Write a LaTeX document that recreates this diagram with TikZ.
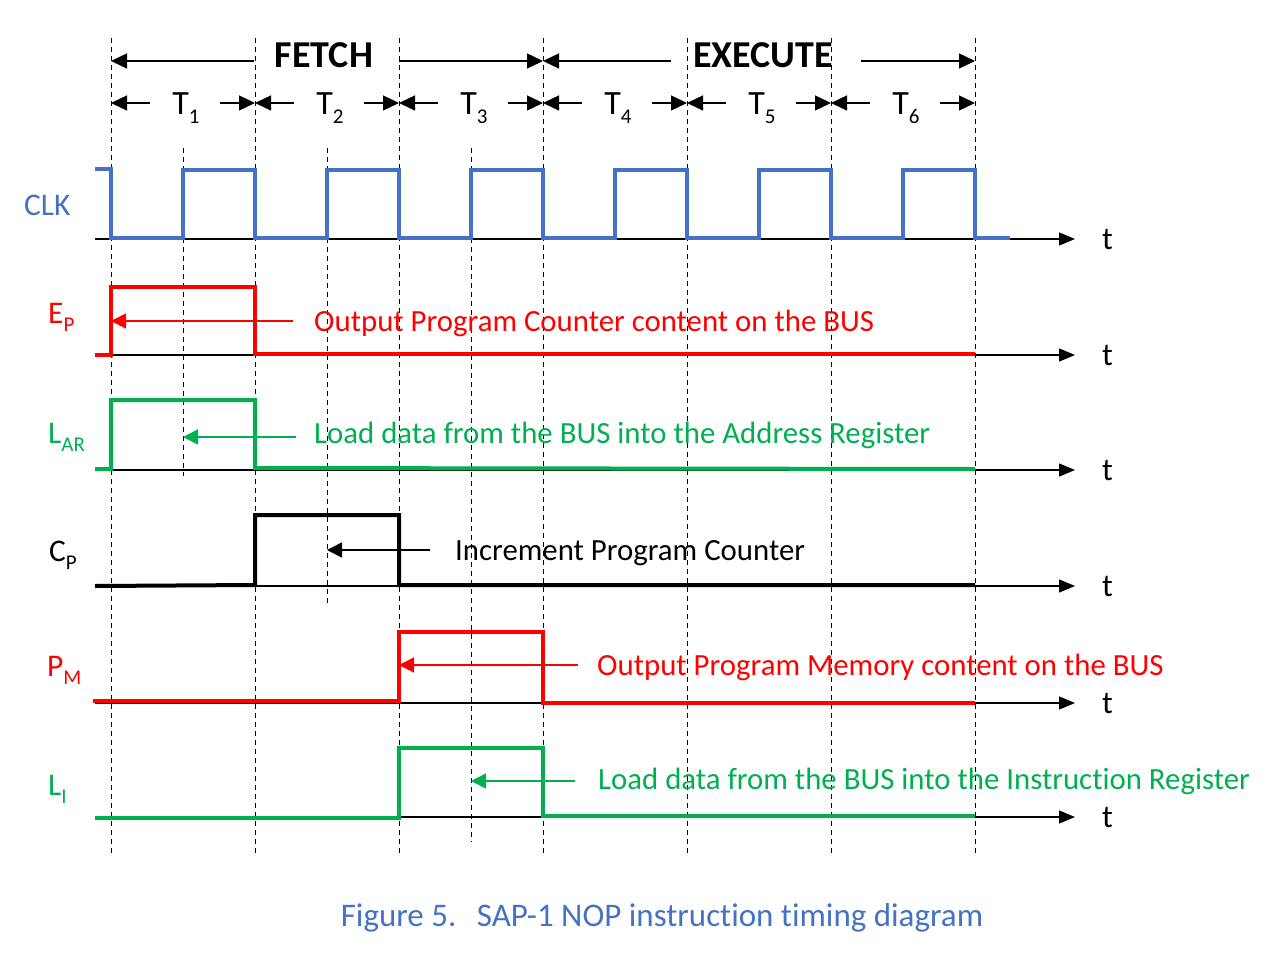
\documentclass[tikz,border=0pt]{standalone}
\usepackage{fontspec}
\setmainfont{Carlito}[Ligatures=NoCommon]
\usetikzlibrary{arrows.meta}
\definecolor{clkblue}{HTML}{4472C4}
\definecolor{sigred}{HTML}{FF0000}
\definecolor{siggreen}{HTML}{00B050}
\definecolor{capblue}{HTML}{4472C4}
\newcommand\lowsub[1]{\raisebox{-0.28em}{\fontsize{21}{21}\selectfont #1}}
\begin{document}
\begin{tikzpicture}[x=1pt,y=-1pt,
  sig/.style={line width=4pt, line join=miter, line cap=butt},
  axisline/.style={line width=1.2pt, -{Triangle[length=16pt,width=13pt]}},
  gridline/.style={line width=0.9pt, dash pattern=on 5pt off 4pt},
  spanarrow/.style={line width=1.3pt, -{Triangle[length=16pt,width=15pt]}},
  note/.style={line width=1.6pt, -{Triangle[length=15pt,width=15pt]}},
  notetext/.style={font=\fontsize{30.8}{33}\selectfont, inner sep=0pt, anchor=base west},
  siglabel/.style={font=\fontsize{31.5}{33}\selectfont, inner sep=0pt, anchor=base west},
  tlabel/.style={font=\fontsize{32}{34}\selectfont, inner sep=0pt, anchor=base west},
  phase/.style={font=\bfseries\fontsize{38}{40}\selectfont, inner sep=0pt, anchor=base},
  period/.style={font=\fontsize{34}{36}\selectfont, inner sep=0pt, anchor=base},
]
\useasboundingbox (0,0) rectangle (1274,972);

% grid lines
\foreach \x in {111,255,399,543,687,831,975}
  \draw[gridline] (\x,38) -- (\x,856);
\draw[gridline] (183,148) -- (183,476);
\draw[gridline] (327,148) -- (327,606);
\draw[gridline] (471,148) -- (471,842);

% time axes
\foreach \n/\y in {0/239,1/355,2/470,3/586,4/703,5/817}{
  \coordinate (ax\n) at (95,\y);
  \coordinate (ae\n) at (1075,\y);
  \draw[axisline] (ax\n) -- (ae\n);
  \node[tlabel] (t\n) at (1102,\y+10) {t};
}

% phase headings
\node[phase] (fetch) at (324,67) {FETCH};
\node[phase] (exec) at (763,67) {EXECUTE};
\coordinate (f1) at (254,61); \coordinate (f0) at (111,61);
\coordinate (f2) at (399,61); \coordinate (f3) at (543,61);
\coordinate (e1) at (671,61); \coordinate (e0) at (543,61);
\coordinate (e2) at (861,61); \coordinate (e3) at (975,61);
\draw[spanarrow] (f1) -- (f0);
\draw[spanarrow] (f2) -- (f3);
\draw[spanarrow] (e1) -- (e0);
\draw[spanarrow] (e2) -- (e3);

% periods
\foreach \k/\c in {1/183,2/327,3/471,4/615,5/759,6/903}{
  \node[period] (T\k) at (\c+3,114) {T\lowsub{\k}};
  \coordinate (pl\k) at (\c-33,103);
  \coordinate (pL\k) at (\c-72,103);
  \coordinate (pr\k) at (\c+37,103);
  \coordinate (pR\k) at (\c+72,103);
  \draw[spanarrow] (pl\k) -- (pL\k);
  \draw[spanarrow] (pr\k) -- (pR\k);
}

% signal labels
\node[siglabel, text=clkblue] (lclk) at (24,215) {CLK};
\node[siglabel, text=sigred] (lep) at (48,323) {E\lowsub{P}};
\node[siglabel, text=siggreen] (llar) at (48,443) {L\lowsub{AR}};
\node[siglabel, text=black] (lcp) at (49,561) {C\lowsub{P}};
\node[siglabel, text=sigred] (lpm) at (47,676) {P\lowsub{M}};
\node[siglabel, text=siggreen] (lli) at (48,795) {L\lowsub{I}};

% waveforms
\draw[sig, clkblue] (95,169) -- (111,169) -- (111,238) -- (183,238) -- (183,170) -- (255,170) -- (255,238)
  -- (327,238) -- (327,170) -- (399,170) -- (399,238) -- (471,238) -- (471,170) -- (543,170) -- (543,238)
  -- (615,238) -- (615,170) -- (687,170) -- (687,238) -- (759,238) -- (759,170) -- (831,170) -- (831,238)
  -- (903,238) -- (903,170) -- (975,170) -- (975,238) -- (1010,238);
\draw[sig, sigred] (95,355) -- (111,355) -- (111,287) -- (255,287) -- (255,354) -- (975,354);
\draw[sig, siggreen] (95,469) -- (111,469) -- (111,400) -- (255,400) -- (255,468) -- (975,469);
\draw[sig, black] (95,586) -- (255,585) -- (255,515) -- (399,515) -- (399,585) -- (975,585);
\draw[sig, sigred] (93,701) -- (399,701) -- (399,632) -- (543,632) -- (543,703) -- (975,703);
\draw[sig, siggreen] (95,818) -- (399,818) -- (399,748) -- (543,748) -- (543,816) -- (975,816);

% annotations
\node[notetext, text=sigred] (nep) at (314,331) {Output Program Counter content on the BUS};
\coordinate (sep) at (293,321); \coordinate (hep) at (111,321);
\draw[note, sigred] (sep) -- (hep);

\node[notetext, text=siggreen] (nlar) at (314,443) {Load data from the BUS into the Address Register};
\coordinate (slar) at (296,437); \coordinate (hlar) at (183,437);
\draw[note, siggreen] (slar) -- (hlar);

\node[notetext, text=black] (ncp) at (455,560) {Increment Program Counter};
\coordinate (scp) at (430,550); \coordinate (hcp) at (327,550);
\draw[note, black] (scp) -- (hcp);

\node[notetext, text=sigred] (npm) at (597,675) {Output Program Memory content on the BUS};
\coordinate (spm) at (578,665); \coordinate (hpm) at (399,665);
\draw[note, sigred] (spm) -- (hpm);

\node[notetext, text=siggreen] (nli) at (598,789) {Load data from the BUS into the Instruction Register};
\coordinate (sli) at (575,781); \coordinate (hli) at (471,781);
\draw[note, siggreen] (sli) -- (hli);

% caption
\node[font=\fontsize{33}{35}\selectfont, text=capblue, inner sep=0pt, anchor=base] (cap) at (662,926)
  {Figure 5.\hspace{0.62em}SAP-1 NOP instruction timing diagram};
\end{tikzpicture}
\end{document}
